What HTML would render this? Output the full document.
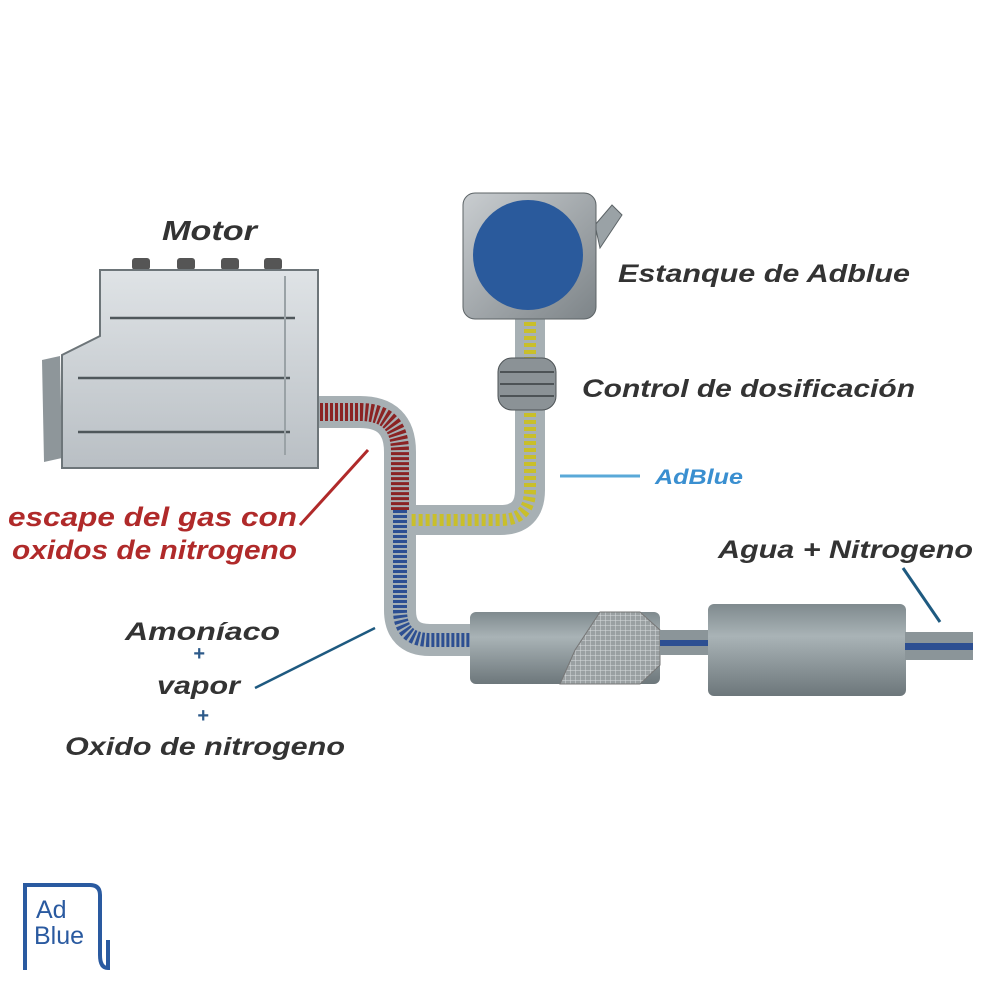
<!DOCTYPE html>
<html><head><style>
html,body{margin:0;padding:0;background:#fff;}
svg{display:block}
text{font-family:"Liberation Sans",sans-serif;font-style:italic;font-weight:bold;}
</style></head><body>
<svg width="1000" height="1000" viewBox="0 0 1000 1000">
<defs>
<linearGradient id="mg" x1="0" y1="0" x2="0" y2="1">
<stop offset="0" stop-color="#dfe3e6"/><stop offset="1" stop-color="#b9bfc4"/></linearGradient>
<linearGradient id="cg" x1="0" y1="0" x2="0" y2="1">
<stop offset="0" stop-color="#7f8a8e"/><stop offset="0.35" stop-color="#a9b3b6"/><stop offset="1" stop-color="#6d777b"/></linearGradient>
<linearGradient id="tg" x1="0" y1="0" x2="1" y2="1">
<stop offset="0" stop-color="#c9cdd0"/><stop offset="1" stop-color="#7d8488"/></linearGradient>
<pattern id="mesh" width="5" height="5" patternUnits="userSpaceOnUse">
<rect width="5" height="5" fill="#9aa0a2"/><path d="M0 0H5M0 0V5" stroke="#d8dcdd" stroke-width="1"/></pattern>
</defs>

<path d="M315 412 H360 Q400 412 400 452 V610 Q400 640 430 640 H480" fill="none" stroke="#a7b0b4" stroke-width="32"/>
<path d="M315 412 H360 Q400 412 400 452 V510" fill="none" stroke="#8b2323" stroke-width="18" stroke-dasharray="3 2"/>
<path d="M400 510 V610 Q400 640 430 640 H480" fill="none" stroke="#2d4f92" stroke-width="14" stroke-dasharray="3 2"/>

<path d="M530 315 V490 Q530 520 500 520 H410" fill="none" stroke="#a7b0b4" stroke-width="30"/>
<path d="M530 315 V490 Q530 520 500 520 H410" fill="none" stroke="#c9bf2a" stroke-width="12" stroke-dasharray="4 3"/>

<path d="M595 225 L612 205 L622 215 L600 248 Z" fill="#9aa2a6" stroke="#5c6366"/>
<rect x="463" y="193" width="133" height="126" rx="12" fill="url(#tg)" stroke="#5c6366"/>
<circle cx="528" cy="255" r="55" fill="#2a5a9c"/>

<rect x="498" y="358" width="58" height="52" rx="14" fill="#8b9296" stroke="#4d5356"/>
<path d="M500 372H554M500 384H554M500 396H554" stroke="#4d5356" stroke-width="2"/>

<rect x="132" y="258" width="18" height="12" rx="3" fill="#555"/>
<rect x="177" y="258" width="18" height="12" rx="3" fill="#555"/>
<rect x="221" y="258" width="18" height="12" rx="3" fill="#555"/>
<rect x="264" y="258" width="18" height="12" rx="3" fill="#555"/>
<path d="M42 360 L60 356 L62 458 L44 462 Z" fill="#8e969a"/>
<path d="M100 270 H318 V468 H62 V355 L100 336 Z" fill="url(#mg)" stroke="#6d7579" stroke-width="2"/>
<path d="M110 318H295M78 378H290M78 432H290" stroke="#4f575b" stroke-width="2.5"/>
<path d="M285 276 V455" stroke="#9aa2a6" stroke-width="2"/>

<rect x="470" y="612" width="190" height="72" rx="6" fill="url(#cg)"/>
<path d="M600 612 L640 612 L660 630 V665 L640 684 L560 684 L575 650 Z" fill="url(#mesh)" stroke="#777"/>
<rect x="660" y="630" width="50" height="25" fill="#8b9599"/>
<rect x="660" y="640" width="50" height="6" fill="#2d4f92"/>
<rect x="708" y="604" width="198" height="92" rx="6" fill="url(#cg)"/>
<rect x="905" y="632" width="68" height="28" fill="#8b9599"/>
<rect x="905" y="643" width="68" height="7" fill="#2d4f92"/>

<line x1="300" y1="525" x2="368" y2="450" stroke="#b02a2a" stroke-width="3"/>
<line x1="560" y1="476" x2="640" y2="476" stroke="#5aa9d8" stroke-width="3"/>
<line x1="903" y1="568" x2="940" y2="622" stroke="#1e5a80" stroke-width="3"/>
<line x1="255" y1="688" x2="375" y2="628" stroke="#1e5a80" stroke-width="2.5"/>

<text x="162" y="240" font-size="28" fill="#333" textLength="95" lengthAdjust="spacingAndGlyphs">Motor</text>
<text x="618" y="282" font-size="25" fill="#333" textLength="292" lengthAdjust="spacingAndGlyphs">Estanque de Adblue</text>
<text x="582" y="397" font-size="25" fill="#333" textLength="333" lengthAdjust="spacingAndGlyphs">Control de dosificación</text>
<text x="655" y="484" font-size="21" fill="#3a8fd0" textLength="88" lengthAdjust="spacingAndGlyphs">AdBlue</text>
<text x="718" y="558" font-size="25" fill="#333" textLength="255" lengthAdjust="spacingAndGlyphs">Agua + Nitrogeno</text>
<text x="8" y="526" font-size="27" fill="#b02a2a" textLength="289" lengthAdjust="spacingAndGlyphs">escape del gas con</text>
<text x="12" y="559" font-size="27" fill="#b02a2a" textLength="285" lengthAdjust="spacingAndGlyphs">oxidos de nitrogeno</text>
<text x="125" y="640" font-size="25" fill="#333" textLength="155" lengthAdjust="spacingAndGlyphs">Amoníaco</text>
<text x="193" y="660" font-size="20" fill="#2d5a8a">+</text>
<text x="157" y="694" font-size="25" fill="#333" textLength="83" lengthAdjust="spacingAndGlyphs">vapor</text>
<text x="197" y="722" font-size="20" fill="#2d5a8a">+</text>
<text x="65" y="755" font-size="25" fill="#333" textLength="280" lengthAdjust="spacingAndGlyphs">Oxido de nitrogeno</text>

<path d="M25 970 V885 H90 Q100 885 100 895 V955 Q100 968 108 968 V940" fill="none" stroke="#2a5aa0" stroke-width="4"/>
<text x="36" y="918" font-size="25" fill="#2a5aa0" style="font-style:normal;font-weight:normal">Ad</text>
<text x="34" y="944" font-size="25" fill="#2a5aa0" style="font-style:normal;font-weight:normal">Blue</text>
</svg>
</body></html>
